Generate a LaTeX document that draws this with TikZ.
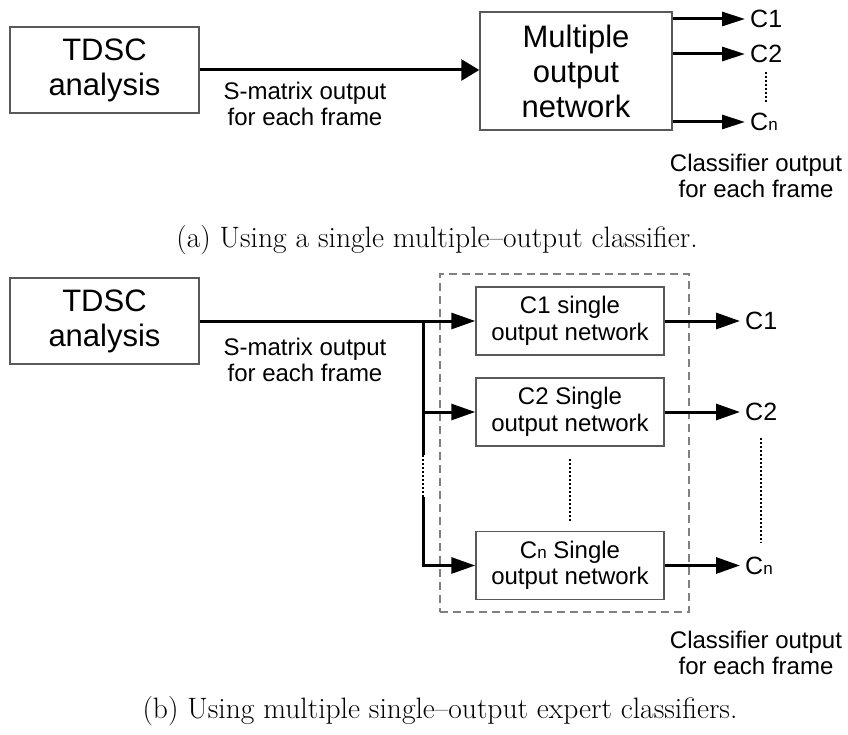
\documentclass[tikz,border=0pt]{standalone}
\usepackage{fontspec}
\newfontfamily\arial{Liberation Sans}
\usetikzlibrary{arrows.meta}

\begin{document}
\begin{tikzpicture}[x=1pt,y=-1pt,
  bigbox/.style={draw=black!65, line width=1.5pt, align=center, inner sep=0pt,
    font={\arial\fontsize{31}{35}\selectfont}},
  smallbox/.style={draw=black!65, line width=1.5pt, align=center, inner sep=0pt,
    minimum width=188pt, minimum height=68pt,
    font={\arial\fontsize{24}{26.5}\selectfont}},
  lbl/.style={align=center, inner sep=0pt, font={\arial\fontsize{24}{26}\selectfont}},
  outlbl/.style={anchor=west, inner sep=5pt, font={\arial\fontsize{25}{26}\selectfont}},
  conn/.style={line width=3pt},
  arr/.style={line width=3pt, -{Triangle[length=24pt,width=16pt]}},
  arrnarrow/.style={line width=3pt, -{Triangle[length=23pt,width=14pt]}},
  arrwide/.style={line width=3pt, -{Triangle[length=18pt,width=21pt]}},
  dotline/.style={line width=2.5pt, dash pattern=on 2pt off 2pt},
  groupbox/.style={draw=black!50, line width=2pt, dash pattern=on 8pt off 5pt,
    minimum width=249pt, minimum height=338pt, inner sep=0pt},
  capt/.style={inner sep=0pt, font={\fontsize{29.5}{32}\selectfont}}]
\newcommand{\subn}{{\fontsize{17}{17}\selectfont n}}
\useasboundingbox (0,0) rectangle (848,735);

% ---------- (a) single multiple-output classifier ----------
\node[bigbox, minimum width=189pt, minimum height=86pt] (tdscA) at (104.5,70) {TDSC\\analysis};
\node[bigbox, minimum width=192pt, minimum height=118pt] (monA) at (576,71) {Multiple\\output\\network};
\draw[arrwide] (tdscA.east) -- (monA.west |- tdscA.east);
\node[lbl] (smA) at (305,104) {S-matrix output\\for each frame};

\node[outlbl] (c1a) at (745,19) {C1};
\node[outlbl] (c2a) at (745,54) {C2};
\node[outlbl] (cna) at (745,122) {C\subn};
\draw[arrnarrow] (monA.east |- c1a.west) -- (c1a.west);
\draw[arrnarrow] (monA.east |- c2a.west) -- (c2a.west);
\draw[arrnarrow] (monA.east |- cna.west) -- (cna.west);
\draw[dotline, shorten <=4pt, shorten >=4pt] (c2a.south) -- (c2a.south |- cna.north);
\node[lbl] (clsA) at (756,176) {Classifier output\\for each frame};

\node[capt] (capA) at (437,240) {(a) Using a single multiple--output classifier.};

% ---------- (b) multiple single-output expert classifiers ----------
\node[bigbox, minimum width=189pt, minimum height=86pt] (tdscB) at (104.5,321) {TDSC\\analysis};
\node[lbl] (smB) at (305,359.5) {S-matrix output\\for each frame};

\node[groupbox] (group) at (564.5,443) {};
\node[smallbox] (n1) at (570,321) {C1 single\\output network};
\node[smallbox] (n2) at (570,412) {C2 Single\\output network};
\node[smallbox] (nn) at (570,565.5) {C\subn{} Single\\output network};

% input bus feeding the expert networks
\coordinate (busTop) at (423,321);
\coordinate (busGapA) at (423,455);
\coordinate (busGapB) at (423,497);
\draw[arr] (tdscB.east) -- (n1.west);
\draw[conn] (busTop) -- (busGapA);
\draw[dotline] (busGapA) -- (busGapB);
\draw[arr] (busGapB) -- (busGapB |- nn.west) -- (nn.west);
\draw[arr] (busTop |- n2.west) -- (n2.west);
\draw[dotline, shorten <=12pt, shorten >=9pt] (n2.south) -- (nn.north);

% expert outputs
\node[outlbl] (c1b) at (740,321) {C1};
\node[outlbl] (c2b) at (740,412) {C2};
\node[outlbl] (cnb) at (740,565.5) {C\subn};
\draw[arr] (n1.east) -- (n1.east -| c1b.west);
\draw[arr] (n2.east) -- (n2.east -| c2b.west);
\draw[arr] (nn.east) -- (nn.east -| cnb.west);
\draw[dotline, shorten <=12pt, shorten >=9pt] (c2b.south) -- (c2b.south |- cnb.north);
\node[lbl] (clsB) at (756,653) {Classifier output\\for each frame};

\node[capt] (capB) at (440,711) {(b) Using multiple single--output expert classifiers.};
\end{tikzpicture}
\end{document}
